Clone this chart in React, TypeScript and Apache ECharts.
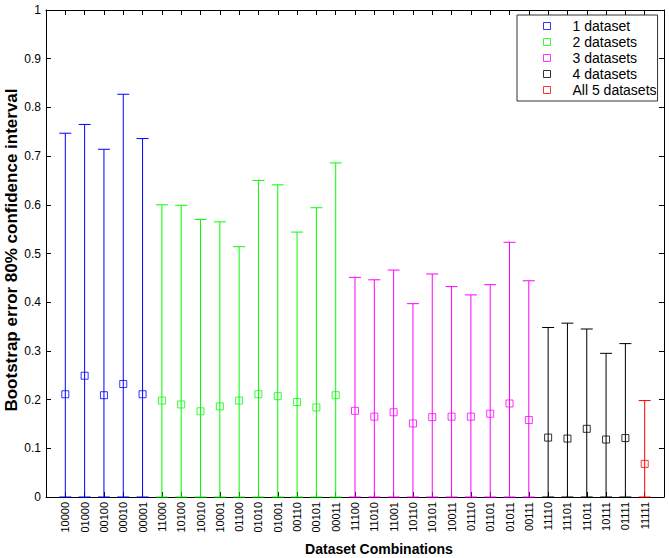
import React, { useEffect, useRef } from "react";
import * as echarts from "echarts";

const categories = [
  "10000", "01000", "00100", "00010", "00001",
  "11000", "10100", "10010", "10001", "01100", "01010", "01001", "00110", "00101", "00011",
  "11100", "11010", "11001", "10110", "10101", "10011", "01110", "01101", "01011", "00111",
  "11110", "11101", "11011", "10111", "01111",
  "11111",
];
const markerValues = [
  0.211, 0.249, 0.209, 0.232, 0.211,
  0.198, 0.19, 0.176, 0.186, 0.198, 0.211, 0.207, 0.195, 0.184, 0.209,
  0.177, 0.165, 0.174, 0.151, 0.164, 0.165, 0.165, 0.171, 0.192, 0.158,
  0.122, 0.12, 0.14, 0.118, 0.121,
  0.068,
];
const upperValues = [
  0.747, 0.765, 0.714, 0.827, 0.736,
  0.6, 0.599, 0.57, 0.565, 0.514, 0.65, 0.641, 0.544, 0.594, 0.686,
  0.451, 0.446, 0.466, 0.397, 0.458, 0.432, 0.415, 0.436, 0.523, 0.444,
  0.348, 0.357, 0.345, 0.295, 0.315,
  0.198,
];
const lowerValues = categories.map(() => 0);
const groupNames = ["1 dataset", "2 datasets", "3 datasets", "4 datasets", "All 5 datasets"];
const groupSizes = [5, 10, 10, 5, 1];
const groupColors = ["#0000ff", "#00ff00", "#ff00ff", "#000000", "#ff0000"];
const yTicks = [0, 0.1, 0.2, 0.3, 0.4, 0.5, 0.6, 0.7, 0.8, 0.9, 1];

const FONT = "'Liberation Sans', Arial, sans-serif";

export default function App() {
  const ref = useRef<HTMLDivElement>(null);
  useEffect(() => {
    if (!ref.current) return;
    const chart = echarts.init(ref.current, null, { renderer: "svg" });
    const series: any[] = [];
    let start = 0;
    groupNames.forEach((name, g) => {
      const color = groupColors[g];
      const pts: number[][] = [];
      for (let i = start; i < start + groupSizes[g]; i++) {
        pts.push([i + 1, markerValues[i], upperValues[i], lowerValues[i]]);
      }
      start += groupSizes[g];
      series.push({
        type: "custom",
        name: "eb" + g,
        data: pts,
        encode: { x: 0, y: 2 },
        silent: true,
        z: 2,
        renderItem: (params: any, api: any) => {
          const x = api.value(0);
          const top = api.coord([x, api.value(2)]);
          const bot = api.coord([x, api.value(3)]);
          const hw = 6;
          const st = { stroke: color, lineWidth: 1 };
          return {
            type: "group",
            children: [
              { type: "line", shape: { x1: top[0], y1: top[1], x2: bot[0], y2: bot[1] }, style: st },
              { type: "line", shape: { x1: top[0] - hw, y1: top[1], x2: top[0] + hw, y2: top[1] }, style: st },
              { type: "line", shape: { x1: bot[0] - hw, y1: bot[1], x2: bot[0] + hw, y2: bot[1] }, style: st },
            ],
          };
        },
      });
      series.push({
        type: "scatter",
        name,
        data: pts.map((p) => [p[0], p[1]]),
        symbol: "rect",
        symbolSize: 7,
        z: 3,
        itemStyle: { color: "none", borderColor: color, borderWidth: 1 },
      });
    });

    const axisLineStyle = { color: "#000", width: 1 };
    chart.setOption({
      animation: false,
      backgroundColor: "#fff",
      textStyle: { fontFamily: FONT },
      grid: { left: 46, right: 5, top: 10, bottom: 61, containLabel: false },
      legend: {
        orient: "vertical",
        left: 517,
        top: 15,
        padding: [3, 1, 3, 24],
        itemWidth: 7,
        itemHeight: 7,
        itemGap: 0,
        backgroundColor: "#fff",
        borderColor: "#333",
        borderWidth: 1,
        borderRadius: 0,
        textStyle: { fontSize: 14, color: "#000", fontFamily: FONT, lineHeight: 16, padding: [0, 0, 0, 17] },
        data: groupNames.map((n, g) => ({
          name: n,
          icon: "rect",
          itemStyle: { color: "none", borderColor: groupColors[g], borderWidth: 1 },
        })),
      },
      xAxis: [
        {
          type: "value",
          min: 0,
          max: categories.length + 1,
          interval: 1,
          position: "bottom",
          axisLine: { onZero: false, lineStyle: axisLineStyle },
          axisTick: { inside: true, length: 5, lineStyle: axisLineStyle },
          splitLine: { show: false },
          axisLabel: {
            rotate: 90,
            fontSize: 11,
            color: "#000",
            margin: 5,
            fontFamily: FONT,
            formatter: (v: number) => (v >= 1 && v <= categories.length ? categories[Math.round(v) - 1] : ""),
          },
        },
        {
          type: "value",
          min: 0,
          max: categories.length + 1,
          interval: 1,
          position: "top",
          axisLine: { onZero: false, lineStyle: axisLineStyle },
          axisTick: { inside: true, length: 5, lineStyle: axisLineStyle },
          splitLine: { show: false },
          axisLabel: { show: false },
        },
      ],
      yAxis: [
        {
          type: "value",
          min: 0,
          max: 1,
          interval: 0.1,
          position: "left",
          axisLine: { show: true, onZero: false, lineStyle: axisLineStyle },
          axisTick: { inside: true, length: 5, lineStyle: axisLineStyle },
          splitLine: { show: false },
          axisLabel: {
            fontSize: 12,
            color: "#000",
            margin: 5,
            fontFamily: FONT,
            formatter: (v: number) => {
              const t = yTicks.find((k) => Math.abs(k - v) < 1e-6);
              return t === undefined ? "" : String(t);
            },
          },
        },
        {
          type: "value",
          min: 0,
          max: 1,
          interval: 0.1,
          position: "right",
          axisLine: { show: true, onZero: false, lineStyle: axisLineStyle },
          axisTick: { inside: true, length: 5, lineStyle: axisLineStyle },
          splitLine: { show: false },
          axisLabel: { show: false },
        },
      ],
      graphic: [
        {
          type: "text",
          x: 379,
          y: 549,
          style: {
            text: "Dataset Combinations",
            fontSize: 14,
            fontWeight: "bold",
            fontFamily: FONT,
            fill: "#000",
            align: "center",
            verticalAlign: "middle",
          },
        },
        {
          type: "text",
          x: 11,
          y: 250,
          rotation: Math.PI / 2,
          style: {
            text: "Bootstrap error 80% confidence interval",
            fontSize: 17,
            fontWeight: "bold",
            fontFamily: FONT,
            fill: "#000",
            align: "center",
            verticalAlign: "middle",
          },
        },
      ],
      series,
    });
    return () => chart.dispose();
  }, []);
  return <div ref={ref} style={{ position: "fixed", left: 0, top: 0, width: 669, height: 558 }} />;
}
